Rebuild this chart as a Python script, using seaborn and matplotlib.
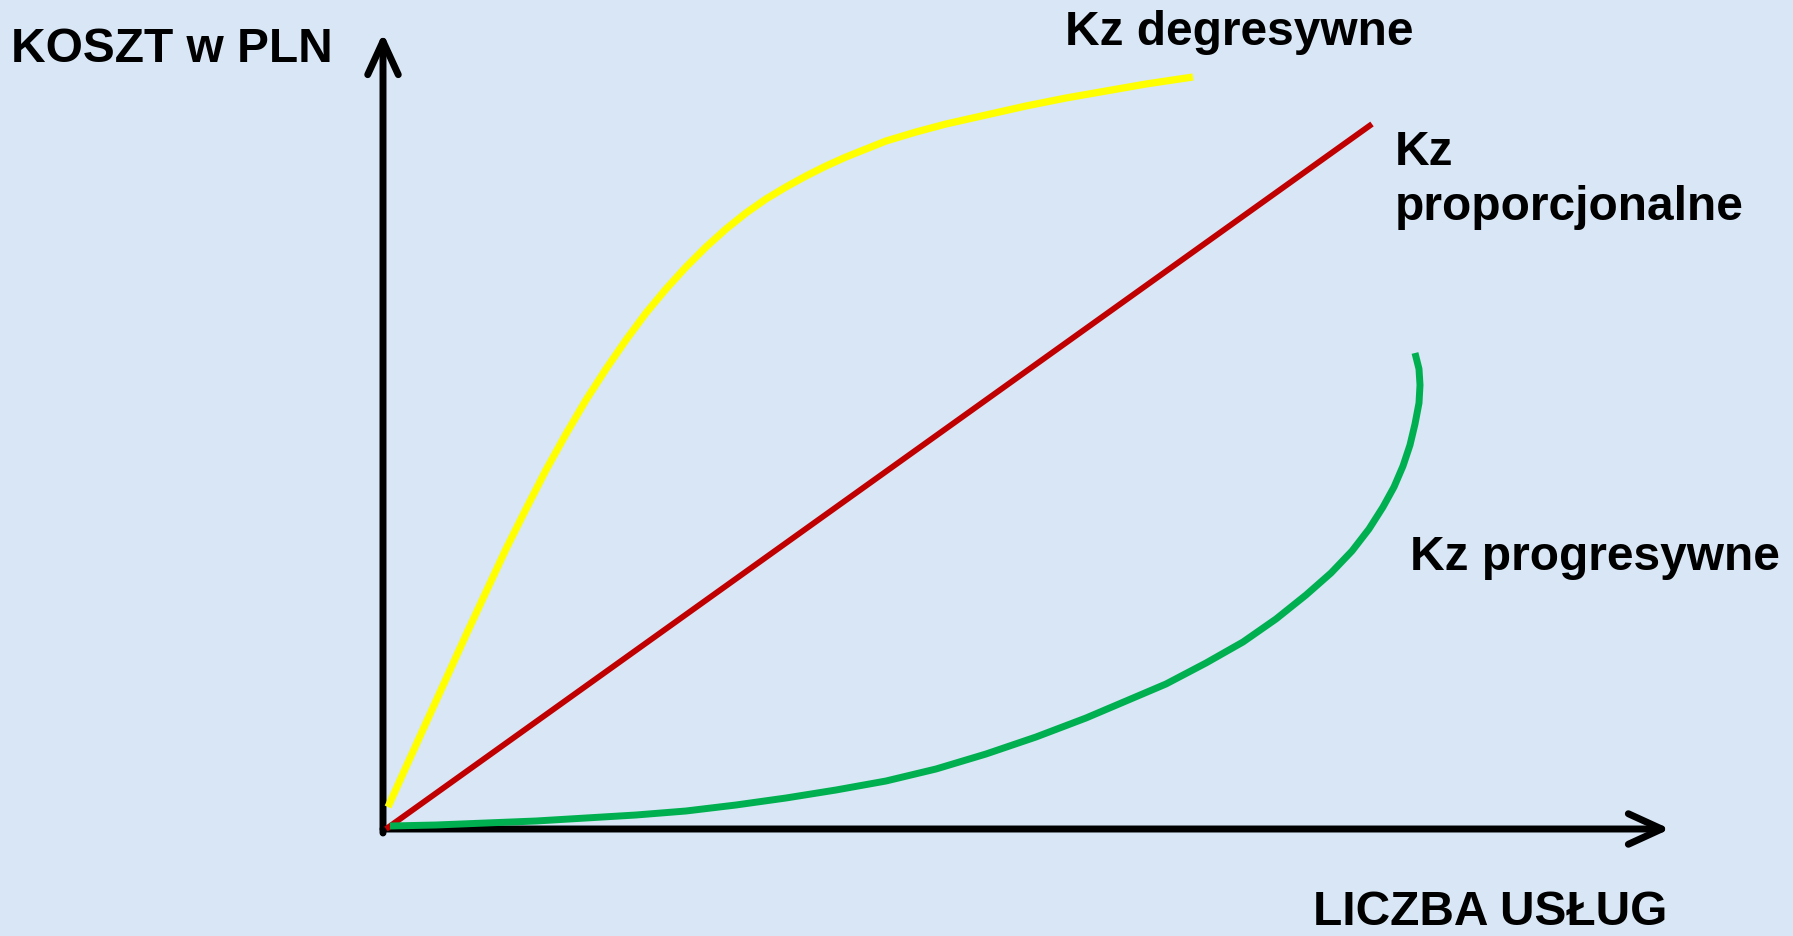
import matplotlib
matplotlib.use("Agg")
import matplotlib.pyplot as plt
from matplotlib.patches import FancyArrowPatch
import seaborn as sns

# Data (x = liczba usług, y = koszt, arbitrary units)
yellow_x = [0.2, 2, 4, 6, 8, 10, 12, 14, 16, 18, 20, 22, 24, 26, 28, 30, 32, 34,
            36, 38, 40, 42, 44, 46, 48, 50, 53, 56, 60, 64, 68, 72, 76, 80.7]
yellow_y = [2.2, 6.2, 10.6, 15.0, 19.4, 23.7, 28.0, 32.0, 35.9, 39.5, 42.9, 46.0,
            48.9, 51.6, 54.0, 56.2, 58.2, 60.0, 61.6, 63.0, 64.2, 65.3, 66.3, 67.2,
            68.0, 68.8, 69.7, 70.5, 71.4, 72.3, 73.1, 73.8, 74.5, 75.2]

red_x = [0.0, 98.6]
red_y = [0.0, 70.5]

green_x = [0.4, 5, 10, 15, 20, 25, 30, 35, 40, 45, 50, 55, 60, 65, 70, 74, 78, 82,
           85.7, 89, 92, 94.5, 96.6, 98.3, 99.7, 100.8, 101.7, 102.4, 102.9, 103.3,
           103.4, 103.3, 102.9]
green_y = [0.3, 0.4, 0.6, 0.8, 1.1, 1.4, 1.8, 2.4, 3.1, 3.9, 4.8, 6.0, 7.5, 9.2,
           11.1, 12.8, 14.5, 16.6, 18.7, 21.0, 23.4, 25.6, 27.8, 30.0, 32.2, 34.2,
           36.3, 38.4, 40.5, 42.6, 44.4, 46.0, 47.6]

BG = "#d8e6f5"

sns.set_style("white")
plt.rcParams["font.family"] = ["Liberation Sans", "DejaVu Sans"]

fig = plt.figure(figsize=(17.93, 9.36), dpi=100)
fig.patch.set_facecolor(BG)
ax = fig.add_axes([0, 0, 1, 1])
ax.set_facecolor(BG)
ax.set_xlim(-38.6, 140.7)
ax.set_ylim(-10.7, 82.9)
ax.axis("off")

# Axes with arrow heads
for start, end in [((-0.3, -0.4), (-0.3, 79.6)), ((-0.3, 0.0), (128.4, 0.0))]:
    arr = FancyArrowPatch(start, end, arrowstyle="->,head_length=24,head_width=11",
                          mutation_scale=1, lw=5, color="black",
                          capstyle="round", joinstyle="round",
                          shrinkA=0, shrinkB=0)
    ax.add_patch(arr)

sns.lineplot(x=yellow_x, y=yellow_y, sort=False, estimator=None, color="#ffff00",
             linewidth=5.2, solid_capstyle="butt", solid_joinstyle="round", ax=ax)
sns.lineplot(x=red_x, y=red_y, sort=False, estimator=None, color="#c00000",
             linewidth=4.2, solid_capstyle="butt", ax=ax)
sns.lineplot(x=green_x, y=green_y, sort=False, estimator=None, color="#00b050",
             linewidth=5.0, solid_capstyle="butt", solid_joinstyle="round", ax=ax)

txt = dict(fontsize=34.5, fontweight="bold", color="black", ha="left", va="baseline")
ax.text(-37.5, 76.7, "KOSZT w PLN", **txt)
ax.text(67.9, 78.4, "Kz degresywne", **txt)
ax.text(100.9, 66.4, "Kz", **txt)
ax.text(100.9, 60.9, "proporcjonalne", **txt)
ax.text(102.4, 25.9, "Kz progresywne", **txt)
ax.text(92.7, -9.6, "LICZBA USŁUG", **txt)

plt.savefig("out.png", dpi=100, facecolor=BG)
plt.close()
